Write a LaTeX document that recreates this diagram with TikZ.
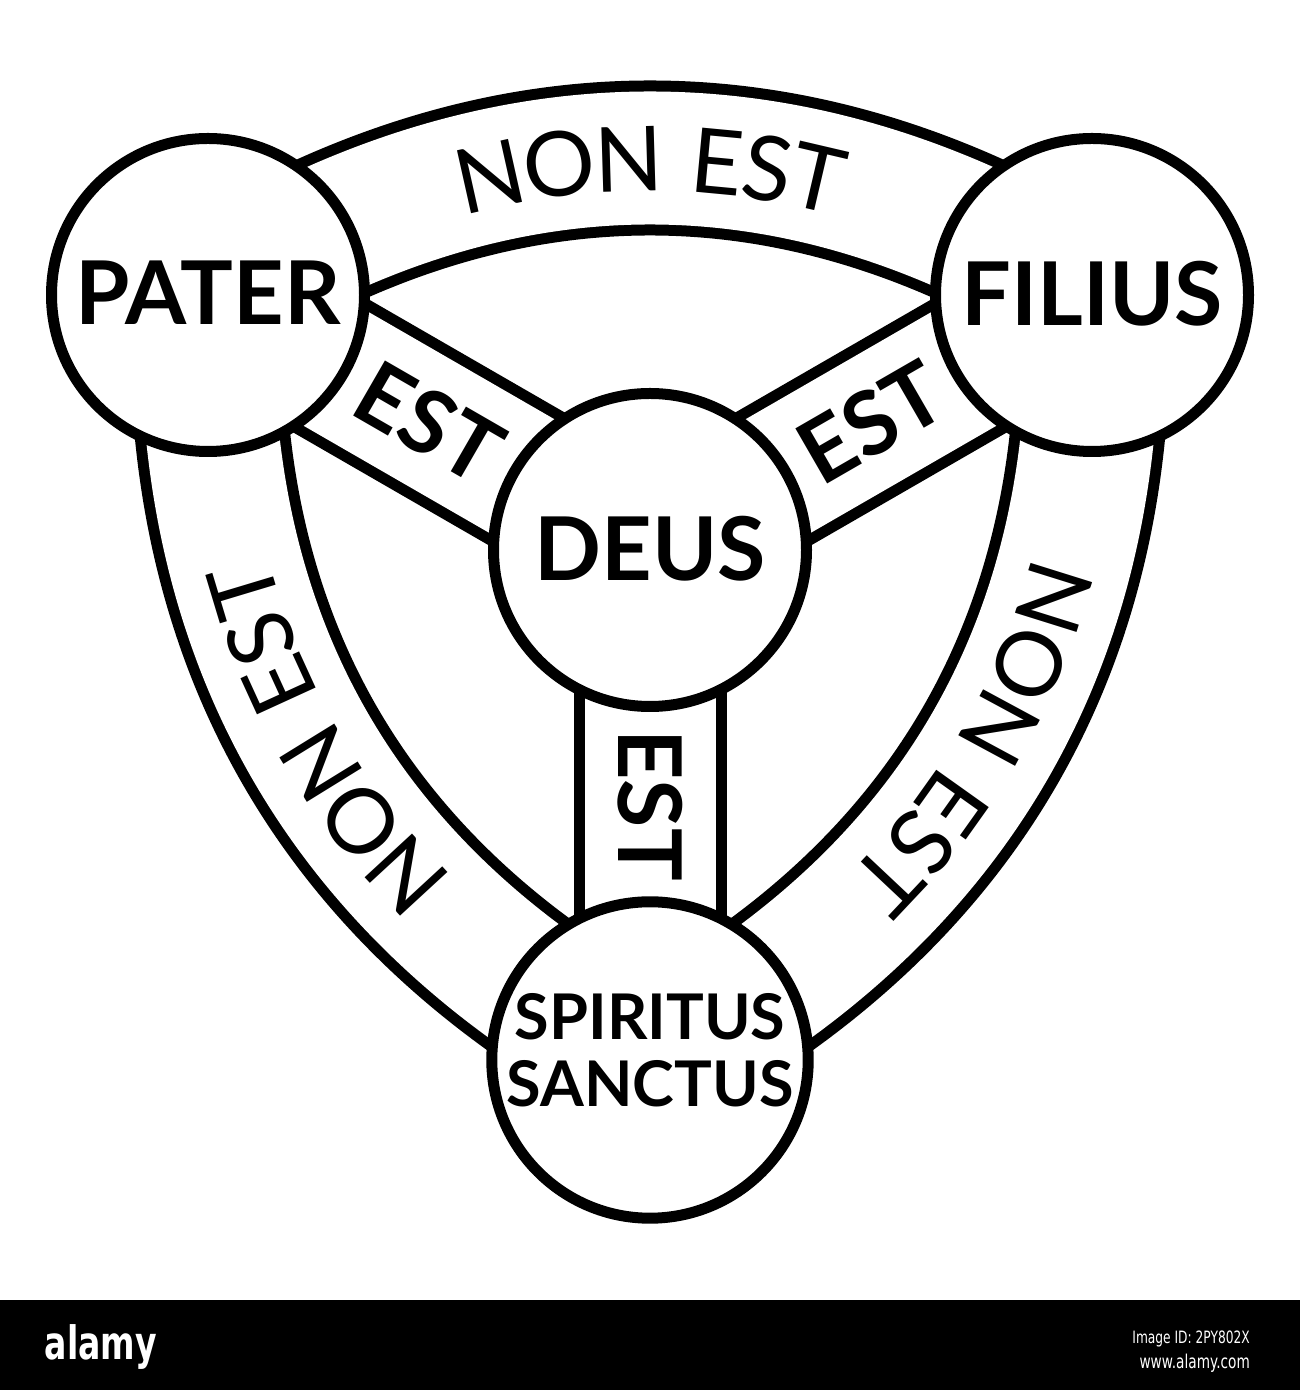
\documentclass[tikz,border=0pt]{standalone}
\usepackage{fontspec}
\setmainfont{Lato}
\newfontfamily\bandfont[LetterSpace=6]{Lato}
\newfontfamily\barfont[FakeStretch=0.72]{DejaVu Sans}
\usetikzlibrary{backgrounds,decorations.text}

\tikzset{
  person/.style={draw,circle,fill=white,line width=11pt,minimum size=313pt,inner sep=0pt,font=\bfseries\fontsize{88}{88}\selectfont},
  band/.style={draw,line width=11pt,double=white,double distance=133pt},
  spoke/.style={draw,line width=11pt,double=white,double distance=131pt},
  esttext/.style={font=\bfseries\fontsize{88}{88}\selectfont,inner sep=0pt},
  nonest/.style={postaction={decorate,decoration={text along path,text align=center,raise=-33pt,text={|\bandfont\fontsize{90}{90}\selectfont|NON EST}}}},
  bartext/.style={text=white,inner sep=0pt}
}

\begin{document}
\begin{tikzpicture}[x=1pt,y=1pt]
    \useasboundingbox (0,0) rectangle (1300,1390);
    \node[person] at (208,1095) (pater) {\raisebox{4pt}{PATER}};
    \node[person] at (1092,1095) (filius) {\raisebox{4pt}{FILIUS}};
    \node[person] at (650,840) (deus) {\raisebox{4pt}{DEUS}};
    \node[person,font=\bfseries\fontsize{63}{67}\selectfont] at (650,330) (spirit) {\raisebox{6pt}{\begin{tabular}{@{}c@{}}SPIRITUS\\SANCTUS\end{tabular}}};
    \begin{pgfonlayer}{background}
        \draw[band,nonest] (pater.center) to[bend left=32] (filius.center);
        \draw[band,nonest] (filius.center) to[bend left=32] (spirit.center);
        \draw[band,nonest] (spirit.center) to[bend left=32] (pater.center);
        \draw[spoke] (pater.center) -- node[esttext,sloped] (estpater) {EST} (deus.center);
        \draw[spoke] (deus.center) -- node[esttext,sloped] (estfilius) {EST} (filius.center);
        \draw[spoke] (deus.center) -- node[esttext,rotate=-90] (estspirit) {EST} (spirit.center);
    \end{pgfonlayer}
    % bottom strip
    \fill[black] (0,0) rectangle (1300,90);
    \node[bartext,anchor=base,font=\barfont\bfseries\fontsize{46}{46}\selectfont] at (101,30) (alamylogo) {alamy};
    \node[bartext,anchor=base east,font=\barfont\fontsize{17}{17}\selectfont] at (1250,46) (imageid) {Image ID: 2PY802X};
    \node[bartext,anchor=base east,font=\barfont\fontsize{19}{19}\selectfont] at (1250,21) (alamyurl) {www.alamy.com};
\end{tikzpicture}
\end{document}
